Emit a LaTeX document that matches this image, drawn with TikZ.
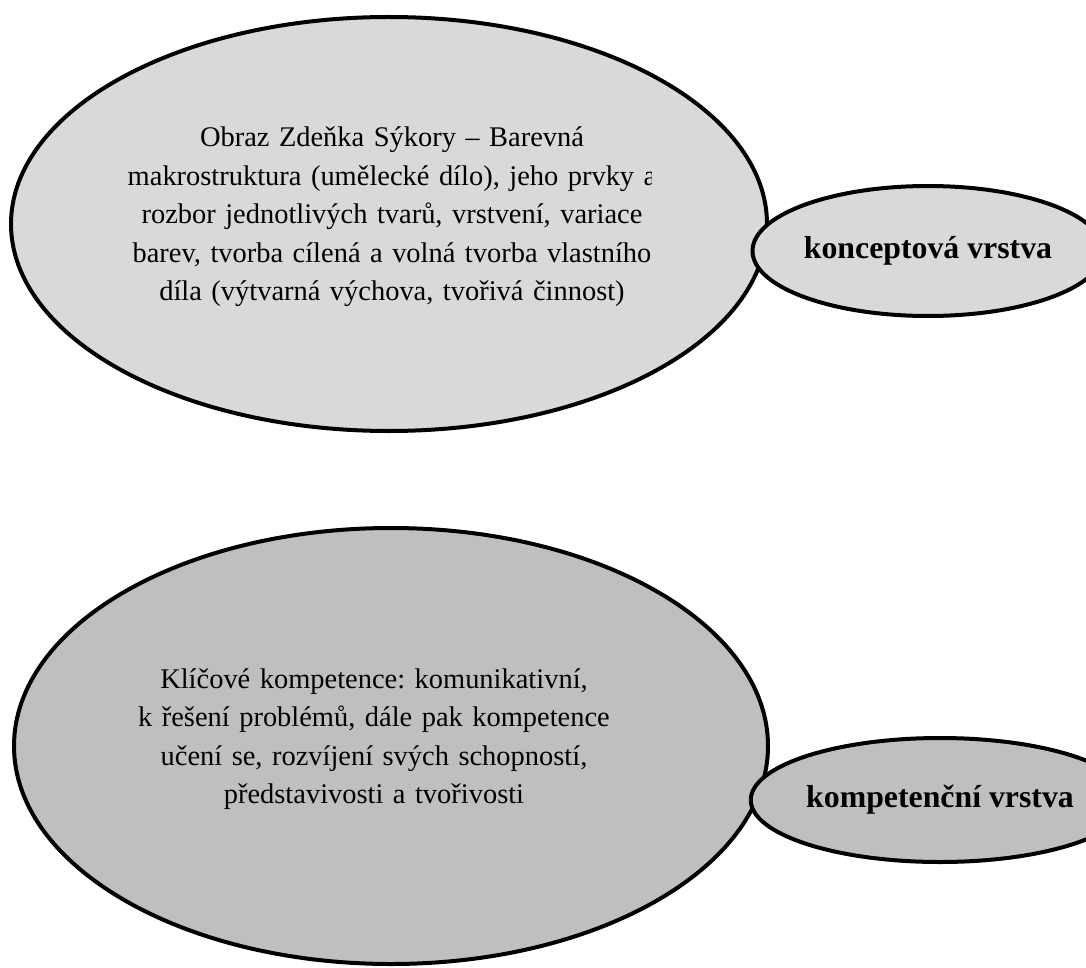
\documentclass[tikz,border=0pt]{standalone}
\usepackage{fontspec}
\setmainfont{Liberation Serif}
\usetikzlibrary{shapes.geometric}
\definecolor{paleGray}{HTML}{D9D9D9}
\definecolor{midGray}{HTML}{BFBFBF}
\frenchspacing
\begin{document}
\begin{tikzpicture}[x=1pt,y=1pt,
  bubble/.style={ellipse, draw=black, line width=4pt, inner sep=0pt},
  bodytext/.style={align=center, inner sep=0pt, text width=600pt,
    font=\fontsize{28.45}{38.5}\selectfont},
  layerlabel/.style={font=\fontsize{31.8}{36}\selectfont\bfseries}]
\useasboundingbox (0,0) rectangle (1086,-968);

% upper pair: the painting and the concept layer
\node[bubble, fill=paleGray, minimum width=756pt, minimum height=414pt] (artwork) at (389,-224) {};
\node[bubble, fill=paleGray, minimum width=292pt, minimum height=130pt,
      layerlabel] (concept) at (928,-251) {konceptová vrstva};

% lower pair: key competences and the competence layer
\node[bubble, fill=midGray, minimum width=754pt, minimum height=436pt] (skills) at (391,-746) {};
\node[bubble, fill=midGray, minimum width=286pt, minimum height=124pt,
      layerlabel] (competence) at (940,-800) {kompetenční vrstva};

% text of the painting bubble; the overlong second line is cut at the box edge
\begin{scope}
  \clip (0,0) rectangle (651,-440);
  \node[bodytext] (artworkText) at (392,-217) {Obraz Zdeňka Sýkory – Barevná\\
    makrostruktura (umělecké dílo), jeho prvky a\\
    rozbor jednotlivých tvarů, vrstvení, variace\\
    barev, tvorba cílená a volná tvorba vlastního\\
    díla (výtvarná výchova, tvořivá činnost)};
\end{scope}

\node[bodytext] (skillsText) at (374,-739) {Klíčové kompetence: komunikativní,\\
  k řešení problémů, dále pak kompetence\\
  učení se, rozvíjení svých schopností,\\
  představivosti a tvořivosti};
\end{tikzpicture}
\end{document}
